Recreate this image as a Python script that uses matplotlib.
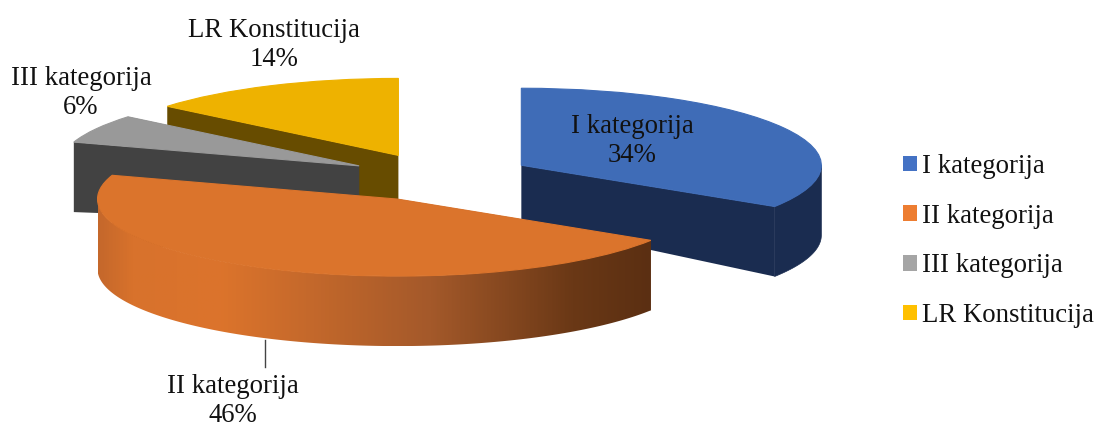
import numpy as np
import matplotlib
matplotlib.use("Agg")
import matplotlib.pyplot as plt
from matplotlib.colors import LinearSegmentedColormap
from matplotlib.patches import Polygon, Patch

plt.rcParams['font.family'] = ['Liberation Serif', 'DejaVu Serif']

categories = ["I kategorija", "II kategorija", "III kategorija", "LR Konstitucija"]
shares = [34, 46, 6, 14]
explode = [0.317, 0.317, 0.30, 0.31]
top_colors = ["#3F6CB7", "#DB742C", "#999999", "#EEB200"]
wall_colors = ["#1A2C50", "#5D3012", "#424242", "#674C00"]
legend_colors = ["#4472C4", "#ED7D31", "#A5A5A5", "#FFC000"]
layers = [2, 3, 1, 0]  # paint order, back to front

W, H = 1096, 423
RX, RY = 300.0, 77.0   # pixels per pie radius, across and up
CX, CY = 438.0, 177.0  # pie centre in pixels
RIM_DEPTH, APEX_DEPTH = 70 / RY, 57 / RY


def data_x(px):
    return (px - CX) / RX


def data_y(py):
    return (CY - py) / RY


fig = plt.figure(figsize=(W / 100, H / 100), dpi=100)
ax = fig.add_axes([0, 0, 1, 1])
wedges, _ = ax.pie(shares, explode=explode, colors=top_colors, startangle=90,
                   counterclock=False, radius=1)

for i, w in enumerate(wedges):
    z = 1 + layers[i]
    w.set_zorder(z + 0.5)
    w.set_edgecolor(top_colors[i])
    w.set_linewidth(0.8)
    cx, cy = w.center
    t = np.radians(np.linspace(w.theta1, w.theta2, 300))
    rim = np.column_stack([cx + w.r * np.cos(t), cy + w.r * np.sin(t)])
    low = rim - [0, RIM_DEPTH]
    apex = np.array([cx, cy])
    apex_low = apex - [0, APEX_DEPTH]
    # the two cut faces, from the apex out to each end of the rim
    for end, end_low in [(rim[0], low[0]), (rim[-1], low[-1])]:
        ax.add_patch(Polygon([apex, end, end_low, apex_low], closed=True,
                             fc=wall_colors[i], ec="none", zorder=z))
    # only the front of the rim shows a wall
    front = np.sin(t) <= 0
    if not front.any():
        continue
    wall = np.vstack([rim[front], low[front][::-1]])
    if i == 1:
        # orange side is shaded from left to right
        shade = LinearSegmentedColormap.from_list("shade", [
            (0.0, "#C5682B"), (0.06, "#D8722C"), (0.22, "#DC742C"),
            (0.6, "#A4592A"), (0.86, "#6A3816"), (1.0, "#5B2F12")])
        x0, x1 = wall[:, 0].min(), wall[:, 0].max()
        y0, y1 = wall[:, 1].min(), wall[:, 1].max()
        im = ax.imshow(np.linspace(0, 1, 400)[None, :], cmap=shade, aspect="auto",
                       extent=(x0, x1, y0, y1), zorder=z + 0.1)
        clip = Polygon(wall, closed=True, transform=ax.transData, fc="none", ec="none")
        ax.add_patch(clip)
        im.set_clip_path(clip)
    else:
        ax.add_patch(Polygon(wall, closed=True, fc=wall_colors[i], ec=wall_colors[i],
                             lw=0.5, zorder=z))

ax.set_aspect("auto")
ax.set_xlim(data_x(0), data_x(W))
ax.set_ylim(data_y(H), data_y(0))
ax.axis("off")

# data labels
label_px = [(632, 141), (233, 401), (81, 93), (274, 45)]
for cat, share, (lx, ly) in zip(categories, shares, label_px):
    ax.text(data_x(lx), data_y(ly), f"{cat}\n{share}%", ha="center", va="center",
            fontsize=19.3, color="#111111", linespacing=1.26, zorder=10, clip_on=False)

ax.plot([data_x(265), data_x(265)], [data_y(340), data_y(367)], color="#444444",
        lw=1, zorder=9)

handles = [Patch(fc=c, ec="none") for c in legend_colors]
ax.legend(handles, categories, loc="center left", bbox_to_anchor=(903 / W, 1 - 241 / H),
          frameon=False, fontsize=19.3, handlelength=0.52, handleheight=0.52,
          handletextpad=0.2, labelspacing=0.92, borderpad=0, borderaxespad=0,
          labelcolor="#111111")

fig.savefig("out.png", dpi=100)
